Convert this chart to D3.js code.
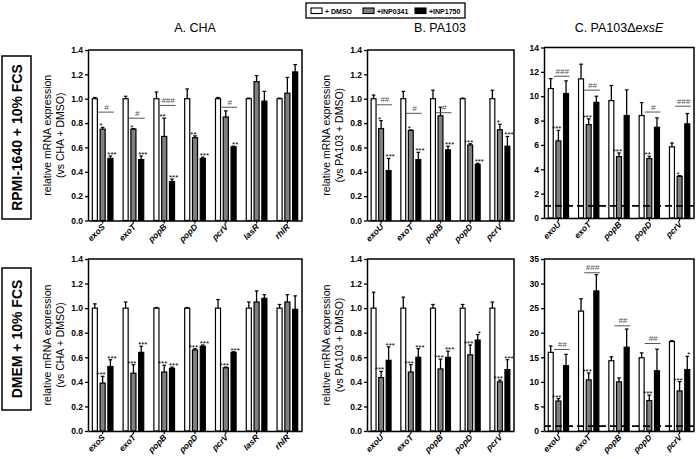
<!DOCTYPE html>
<html>
<head>
<meta charset="utf-8">
<script src="https://cdn.jsdelivr.net/npm/d3@7"></script>
<style>
  body { margin: 0; background: #fff; }
  svg { display: block; font-family: "Liberation Sans", Arial, sans-serif; }
</style>
</head>
<body>
<div id="chart"></div>
<script>
// genes on the x axis
const genesCHA = ["exoS", "exoT", "popB", "popD", "pcrV", "lasR", "rhlR"];
const genesPA = ["exoU", "exoT", "popB", "popD", "pcrV"];
const seriesNames = ["+ DMSO", "+INP0341", "+INP1750"];

// tick labels
const ticksRel = [0, 0.2, 0.4, 0.6, 0.8, 1.0, 1.2, 1.4];
const ticksExsE1 = [0, 2, 4, 6, 8, 10, 12, 14];
const ticksExsE2 = [0, 5, 10, 15, 20, 25, 30, 35];

// RPMI-1640, CHA
const rpmiChaDmso = [1, 1, 1, 1, 1, 1, 1];
const rpmiChaDmsoErr = [0.01, 0.02, 0.055, 0.08, 0.01, 0.005, 0.005];
const rpmiCha0341 = [0.75, 0.75, 0.69, 0.68, 0.85, 1.14, 1.045];
const rpmiCha0341Err = [0.015, 0.005, 0.15, 0.015, 0.05, 0.05, 0.13];
const rpmiCha1750 = [0.51, 0.50, 0.32, 0.51, 0.605, 0.98, 1.22];
const rpmiCha1750Err = [0.02, 0.03, 0.02, 0.01, 0.005, 0.08, 0.06];
const rpmiChaStars0341 = ["*", "*", "**", "**", "", "", ""];
const rpmiChaStars1750 = ["***", "***", "***", "***", "**", "", ""];
const rpmiChaHash = ["#", "#", "###", "", "#", "", ""];
const rpmiChaHashAt = [0.89, 0.84, 0.945, null, 0.93, null, null];

// RPMI-1640, PA103
const rpmiPaDmso = [1, 1, 1, 1, 1];
const rpmiPaDmsoErr = [0.03, 0.06, 0.07, 0.005, 0.07];
const rpmiPa0341 = [0.755, 0.74, 0.86, 0.62, 0.745];
const rpmiPa0341Err = [0.065, 0.003, 0.07, 0.01, 0.045];
const rpmiPa1750 = [0.41, 0.50, 0.58, 0.46, 0.61];
const rpmiPa1750Err = [0.10, 0.06, 0.03, 0.01, 0.08];
const rpmiPaStars0341 = ["*", "*", "", "***", "*"];
const rpmiPaStars1750 = ["***", "***", "***", "***", "***"];
const rpmiPaHash = ["##", "#", "#", "", ""];
const rpmiPaHashAt = [0.95, 0.88, 0.885, null, null];

// RPMI-1640, PA103 delta exsE
const rpmiExsDmso = [10.63, 11.42, 9.64, 8.41, 5.84];
const rpmiExsDmsoErr = [0.82, 1.21, 1.24, 1.07, 0.32];
const rpmiExs0341 = [6.33, 7.67, 5.04, 4.88, 3.42];
const rpmiExs0341Err = [0.87, 0.47, 0.30, 0.19, 0.06];
const rpmiExs1750 = [10.22, 9.5, 8.41, 7.45, 7.73];
const rpmiExs1750Err = [1.04, 0.5, 2.11, 0.77, 0.85];
const rpmiExsStars0341 = ["***", "***", "***", "**", "*"];
const rpmiExsStars1750 = ["", "", "", "", ""];
const rpmiExsHash = ["###", "##", "", "#", "###"];
const rpmiExsHashAt = [11.64, 10.5, null, 8.7, 9.18];

// DMEM, CHA
const dmemChaDmso = [1, 1, 1, 1, 1, 1, 1];
const dmemChaDmsoErr = [0.035, 0.05, 0.005, 0.005, 0.07, 0.05, 0.03];
const dmemCha0341 = [0.39, 0.47, 0.48, 0.66, 0.515, 1.05, 1.05];
const dmemCha0341Err = [0.055, 0.07, 0.055, 0.01, 0.005, 0.09, 0.06];
const dmemCha1750 = [0.525, 0.64, 0.51, 0.69, 0.64, 1.08, 0.99];
const dmemCha1750Err = [0.055, 0.05, 0.01, 0.01, 0.005, 0.03, 0.11];
const dmemChaStars0341 = ["***", "***", "***", "***", "***", "", ""];
const dmemChaStars1750 = ["***", "***", "***", "***", "***", "", ""];
const dmemChaHash = ["", "", "", "", "", "", ""];
const dmemChaHashAt = [null, null, null, null, null, null, null];

// DMEM, PA103
const dmemPaDmso = [1, 1, 1, 1, 1];
const dmemPaDmsoErr = [0.13, 0.09, 0.03, 0.03, 0.05];
const dmemPa0341 = [0.435, 0.48, 0.505, 0.62, 0.40];
const dmemPa0341Err = [0.05, 0.06, 0.08, 0.08, 0.015];
const dmemPa1750 = [0.575, 0.60, 0.60, 0.74, 0.50];
const dmemPa1750Err = [0.11, 0.07, 0.05, 0.045, 0.08];
const dmemPaStars0341 = ["***", "***", "***", "***", "***"];
const dmemPaStars1750 = ["***", "***", "***", "*", "***"];
const dmemPaHash = ["", "", "", "", ""];
const dmemPaHashAt = [null, null, null, null, null];

// DMEM, PA103 delta exsE
const dmemExsDmso = [16.0, 24.4, 14.3, 14.9, 18.2];
const dmemExsDmsoErr = [1.3, 2.5, 0.8, 1.0, 0.2];
const dmemExs0341 = [6.1, 10.4, 10.0, 6.2, 8.15];
const dmemExs0341Err = [0.5, 1.4, 0.8, 1.1, 1.9];
const dmemExs1750 = [13.3, 28.5, 17.05, 12.26, 12.5];
const dmemExs1750Err = [2.3, 3.3, 3.7, 4.4, 2.7];
const dmemExsStars0341 = ["***", "***", "", "***", "***"];
const dmemExsStars1750 = ["", "", "", "", "*"];
const dmemExsHash = ["##", "###", "##", "##", ""];
const dmemExsHashAt = [16.6, 32.2, 21.4, 17.8, null];

const fills = ["#ffffff", "#808080", "#000000"];

const svg = d3.select("#chart").append("svg")
    .attr("width", 696)
    .attr("height", 459);

const panels = [
    { genes: genesCHA, x0: 88, x1: 302, y0: 220.5, y1: 50, max: 1.4, ticks: ticksRel, fmt: ".1f",
      means: [rpmiChaDmso, rpmiCha0341, rpmiCha1750], errs: [rpmiChaDmsoErr, rpmiCha0341Err, rpmiCha1750Err],
      stars: [rpmiChaStars0341, rpmiChaStars1750], hash: rpmiChaHash, hashAt: rpmiChaHashAt,
      ylab: "(vs CHA + DMSO)" },
    { genes: genesPA, x0: 367, x1: 514, y0: 220.5, y1: 50, max: 1.4, ticks: ticksRel, fmt: ".1f",
      means: [rpmiPaDmso, rpmiPa0341, rpmiPa1750], errs: [rpmiPaDmsoErr, rpmiPa0341Err, rpmiPa1750Err],
      stars: [rpmiPaStars0341, rpmiPaStars1750], hash: rpmiPaHash, hashAt: rpmiPaHashAt,
      ylab: "(vs PA103 + DMSO)" },
    { genes: genesPA, x0: 544, x1: 694, y0: 218, y1: 47.5, max: 14, ticks: ticksExsE1, fmt: "d", dashed: true,
      means: [rpmiExsDmso, rpmiExs0341, rpmiExs1750], errs: [rpmiExsDmsoErr, rpmiExs0341Err, rpmiExs1750Err],
      stars: [rpmiExsStars0341, rpmiExsStars1750], hash: rpmiExsHash, hashAt: rpmiExsHashAt },
    { genes: genesCHA, x0: 88, x1: 302, y0: 431, y1: 259, max: 1.4, ticks: ticksRel, fmt: ".1f",
      means: [dmemChaDmso, dmemCha0341, dmemCha1750], errs: [dmemChaDmsoErr, dmemCha0341Err, dmemCha1750Err],
      stars: [dmemChaStars0341, dmemChaStars1750], hash: dmemChaHash, hashAt: dmemChaHashAt,
      ylab: "(vs CHA + DMSO)" },
    { genes: genesPA, x0: 367, x1: 514, y0: 431, y1: 259, max: 1.4, ticks: ticksRel, fmt: ".1f",
      means: [dmemPaDmso, dmemPa0341, dmemPa1750], errs: [dmemPaDmsoErr, dmemPa0341Err, dmemPa1750Err],
      stars: [dmemPaStars0341, dmemPaStars1750], hash: dmemPaHash, hashAt: dmemPaHashAt,
      ylab: "(vs PA103 + DMSO)" },
    { genes: genesPA, x0: 544, x1: 694, y0: 431, y1: 259, max: 35, ticks: ticksExsE2, fmt: "d", dashed: true,
      means: [dmemExsDmso, dmemExs0341, dmemExs1750], errs: [dmemExsDmsoErr, dmemExs0341Err, dmemExs1750Err],
      stars: [dmemExsStars0341, dmemExsStars1750], hash: dmemExsHash, hashAt: dmemExsHashAt }
];

panels.forEach(drawPanel);

function drawPanel(p) {
    const g = svg.append("g");

    const x0 = d3.scaleBand().domain(p.genes).range([p.x0, p.x1])
        .paddingInner(0.33).paddingOuter(0.14);
    const x1 = d3.scaleBand().domain([0, 1, 2]).range([0, x0.bandwidth()])
        .paddingInner(0.35);
    const y = d3.scaleLinear().domain([0, p.max]).range([p.y0, p.y1]);
    const bw = x1.bandwidth();

    // box (top + right)
    g.append("path")
        .attr("d", `M${p.x0},${p.y1}H${p.x1}V${p.y0}`)
        .attr("fill", "none")
        .attr("stroke", "#000")
        .attr("stroke-width", 1.5);

    let bars = [];
    p.means.forEach(function(m, si) {
        m.forEach(function(v, i) {
            bars.push({ gene: p.genes[i], si: si, v: v, e: p.errs[si][i],
                        star: si > 0 ? p.stars[si - 1][i] : "" });
        });
    });

    const cx = d => x0(d.gene) + x1(d.si) + bw / 2;

    // error bars (upper only)
    g.selectAll(".err").data(bars).enter().append("line")
        .attr("x1", cx).attr("x2", cx)
        .attr("y1", d => y(d.v)).attr("y2", d => y(d.v + d.e))
        .attr("stroke", "#000").attr("stroke-width", 1.3);
    g.selectAll(".cap").data(bars).enter().append("line")
        .attr("x1", d => cx(d) - 1.8).attr("x2", d => cx(d) + 1.8)
        .attr("y1", d => y(d.v + d.e)).attr("y2", d => y(d.v + d.e))
        .attr("stroke", "#000").attr("stroke-width", 1.2);

    g.selectAll(".bar").data(bars).enter().append("rect")
        .attr("x", d => x0(d.gene) + x1(d.si))
        .attr("y", d => y(d.v))
        .attr("width", bw)
        .attr("height", d => p.y0 - y(d.v))
        .attr("fill", d => fills[d.si])
        .attr("stroke", "#000")
        .attr("stroke-width", 1.2);

    // dashed baseline at 1
    if (p.dashed) {
        g.append("line")
            .attr("x1", p.x0).attr("x2", p.x1)
            .attr("y1", y(1)).attr("y2", y(1))
            .attr("stroke", "#000").attr("stroke-width", 1.8)
            .attr("stroke-dasharray", "7,4");
    }

    // significance stars (nudged apart so neighbours do not collide)
    g.selectAll(".star").data(bars.filter(d => d.star)).enter().append("text")
        .attr("x", d => cx(d) + (d.si === 1 ? -1.6 : 1.6))
        .attr("y", d => y(d.v + d.e) + 1)
        .attr("text-anchor", "middle")
        .attr("font-size", 8)
        .text(d => d.star);

    // brackets between INP0341 and INP1750
    const hb = p.genes.map((gn, i) => ({ gene: gn, h: p.hash[i], at: p.hashAt[i] })).filter(d => d.h);
    g.selectAll(".br").data(hb).enter().append("line")
        .attr("x1", d => x0(d.gene) + x1(1) - 2)
        .attr("x2", d => x0(d.gene) + x1(2) + bw + 1)
        .attr("y1", d => y(d.at)).attr("y2", d => y(d.at))
        .attr("stroke", "#555").attr("stroke-width", 1);
    g.selectAll(".hs").data(hb).enter().append("text")
        .attr("x", d => (x0(d.gene) + x1(1) + x0(d.gene) + x1(2) + bw) / 2)
        .attr("y", d => y(d.at) - 2.5)
        .attr("text-anchor", "middle")
        .attr("font-size", 8)
        .attr("font-style", "italic")
        .attr("fill", "#555")
        .text(d => d.h);

    // axes
    const ya = g.append("g")
        .attr("transform", `translate(${p.x0},0)`)
        .call(d3.axisLeft(y).tickValues(p.ticks).tickFormat(d3.format(p.fmt))
            .tickSize(3).tickSizeOuter(0).tickPadding(2));
    ya.select(".domain").attr("stroke-width", 1.5);
    ya.selectAll(".tick line").attr("stroke-width", 1.3);
    ya.selectAll("text")
        .attr("font-family", "'Liberation Sans', Arial, sans-serif")
        .attr("font-size", 8.5)
        .attr("font-weight", "bold");

    const xa = g.append("g")
        .attr("transform", `translate(0,${p.y0})`)
        .call(d3.axisBottom(x0).tickSize(3).tickSizeOuter(0));
    xa.select(".domain").attr("stroke-width", 1.5);
    xa.selectAll(".tick line").attr("stroke-width", 1.2);
    xa.selectAll("text")
        .attr("x", 0).attr("y", 0).attr("dy", null)
        .attr("transform", "translate(3,7) rotate(-45)")
        .attr("text-anchor", "end")
        .attr("font-family", "'Liberation Sans', Arial, sans-serif")
        .attr("font-size", 8.5)
        .attr("font-weight", "bold")
        .attr("font-style", "italic");

    // y label
    if (p.ylab) {
        const cy = (p.y0 + p.y1) / 2;
        const lab = g.append("text")
            .attr("transform", `translate(${p.x0 - 37},${cy}) rotate(-90)`)
            .attr("text-anchor", "middle")
            .attr("font-size", 10.5);
        lab.append("tspan").attr("x", 0).attr("y", 0).text("relative mRNA expression");
        lab.append("tspan").attr("x", 0).attr("y", 12.5).text(p.ylab);
    }
}

// panel titles
const titles = [
    { x: 195, t: "A. CHA" },
    { x: 440, t: "B. PA103" },
    { x: 619, t: "C. PA103\u0394", it: "exsE" }
];
titles.forEach(function(d) {
    const t = svg.append("text")
        .attr("x", d.x).attr("y", 32)
        .attr("text-anchor", "middle")
        .attr("font-size", 12.5)
        .text(d.t);
    if (d.it) t.append("tspan").attr("font-style", "italic").text(d.it);
});

// row labels
const rows = [
    { y0: 56, y1: 219, t: "RPMI-1640 + 10% FCS" },
    { y0: 268, y1: 410, t: "DMEM + 10% FCS" }
];
rows.forEach(function(r) {
    svg.append("rect")
        .attr("x", 2).attr("y", r.y0)
        .attr("width", 29).attr("height", r.y1 - r.y0)
        .attr("fill", "none").attr("stroke", "#000").attr("stroke-width", 1.5);
    svg.append("text")
        .attr("transform", `translate(21.5,${(r.y0 + r.y1) / 2}) rotate(-90)`)
        .attr("text-anchor", "middle")
        .attr("font-size", 14)
        .attr("font-weight", "bold")
        .text(r.t);
});

// legend
const legend = svg.append("g").attr("transform", "translate(306,3)");
legend.append("rect")
    .attr("width", 159).attr("height", 15)
    .attr("fill", "#fff").attr("stroke", "#000").attr("stroke-width", 1.3);
const legX = [5, 57, 109];
seriesNames.forEach(function(name, i) {
    legend.append("rect")
        .attr("x", legX[i]).attr("y", 5)
        .attr("width", 11).attr("height", 5.5)
        .attr("fill", fills[i]).attr("stroke", "#000").attr("stroke-width", 1.1);
    legend.append("text")
        .attr("x", legX[i] + 14).attr("y", 10.5)
        .attr("font-size", 7)
        .attr("font-weight", "bold")
        .text(name);
});
</script>
</body>
</html>
